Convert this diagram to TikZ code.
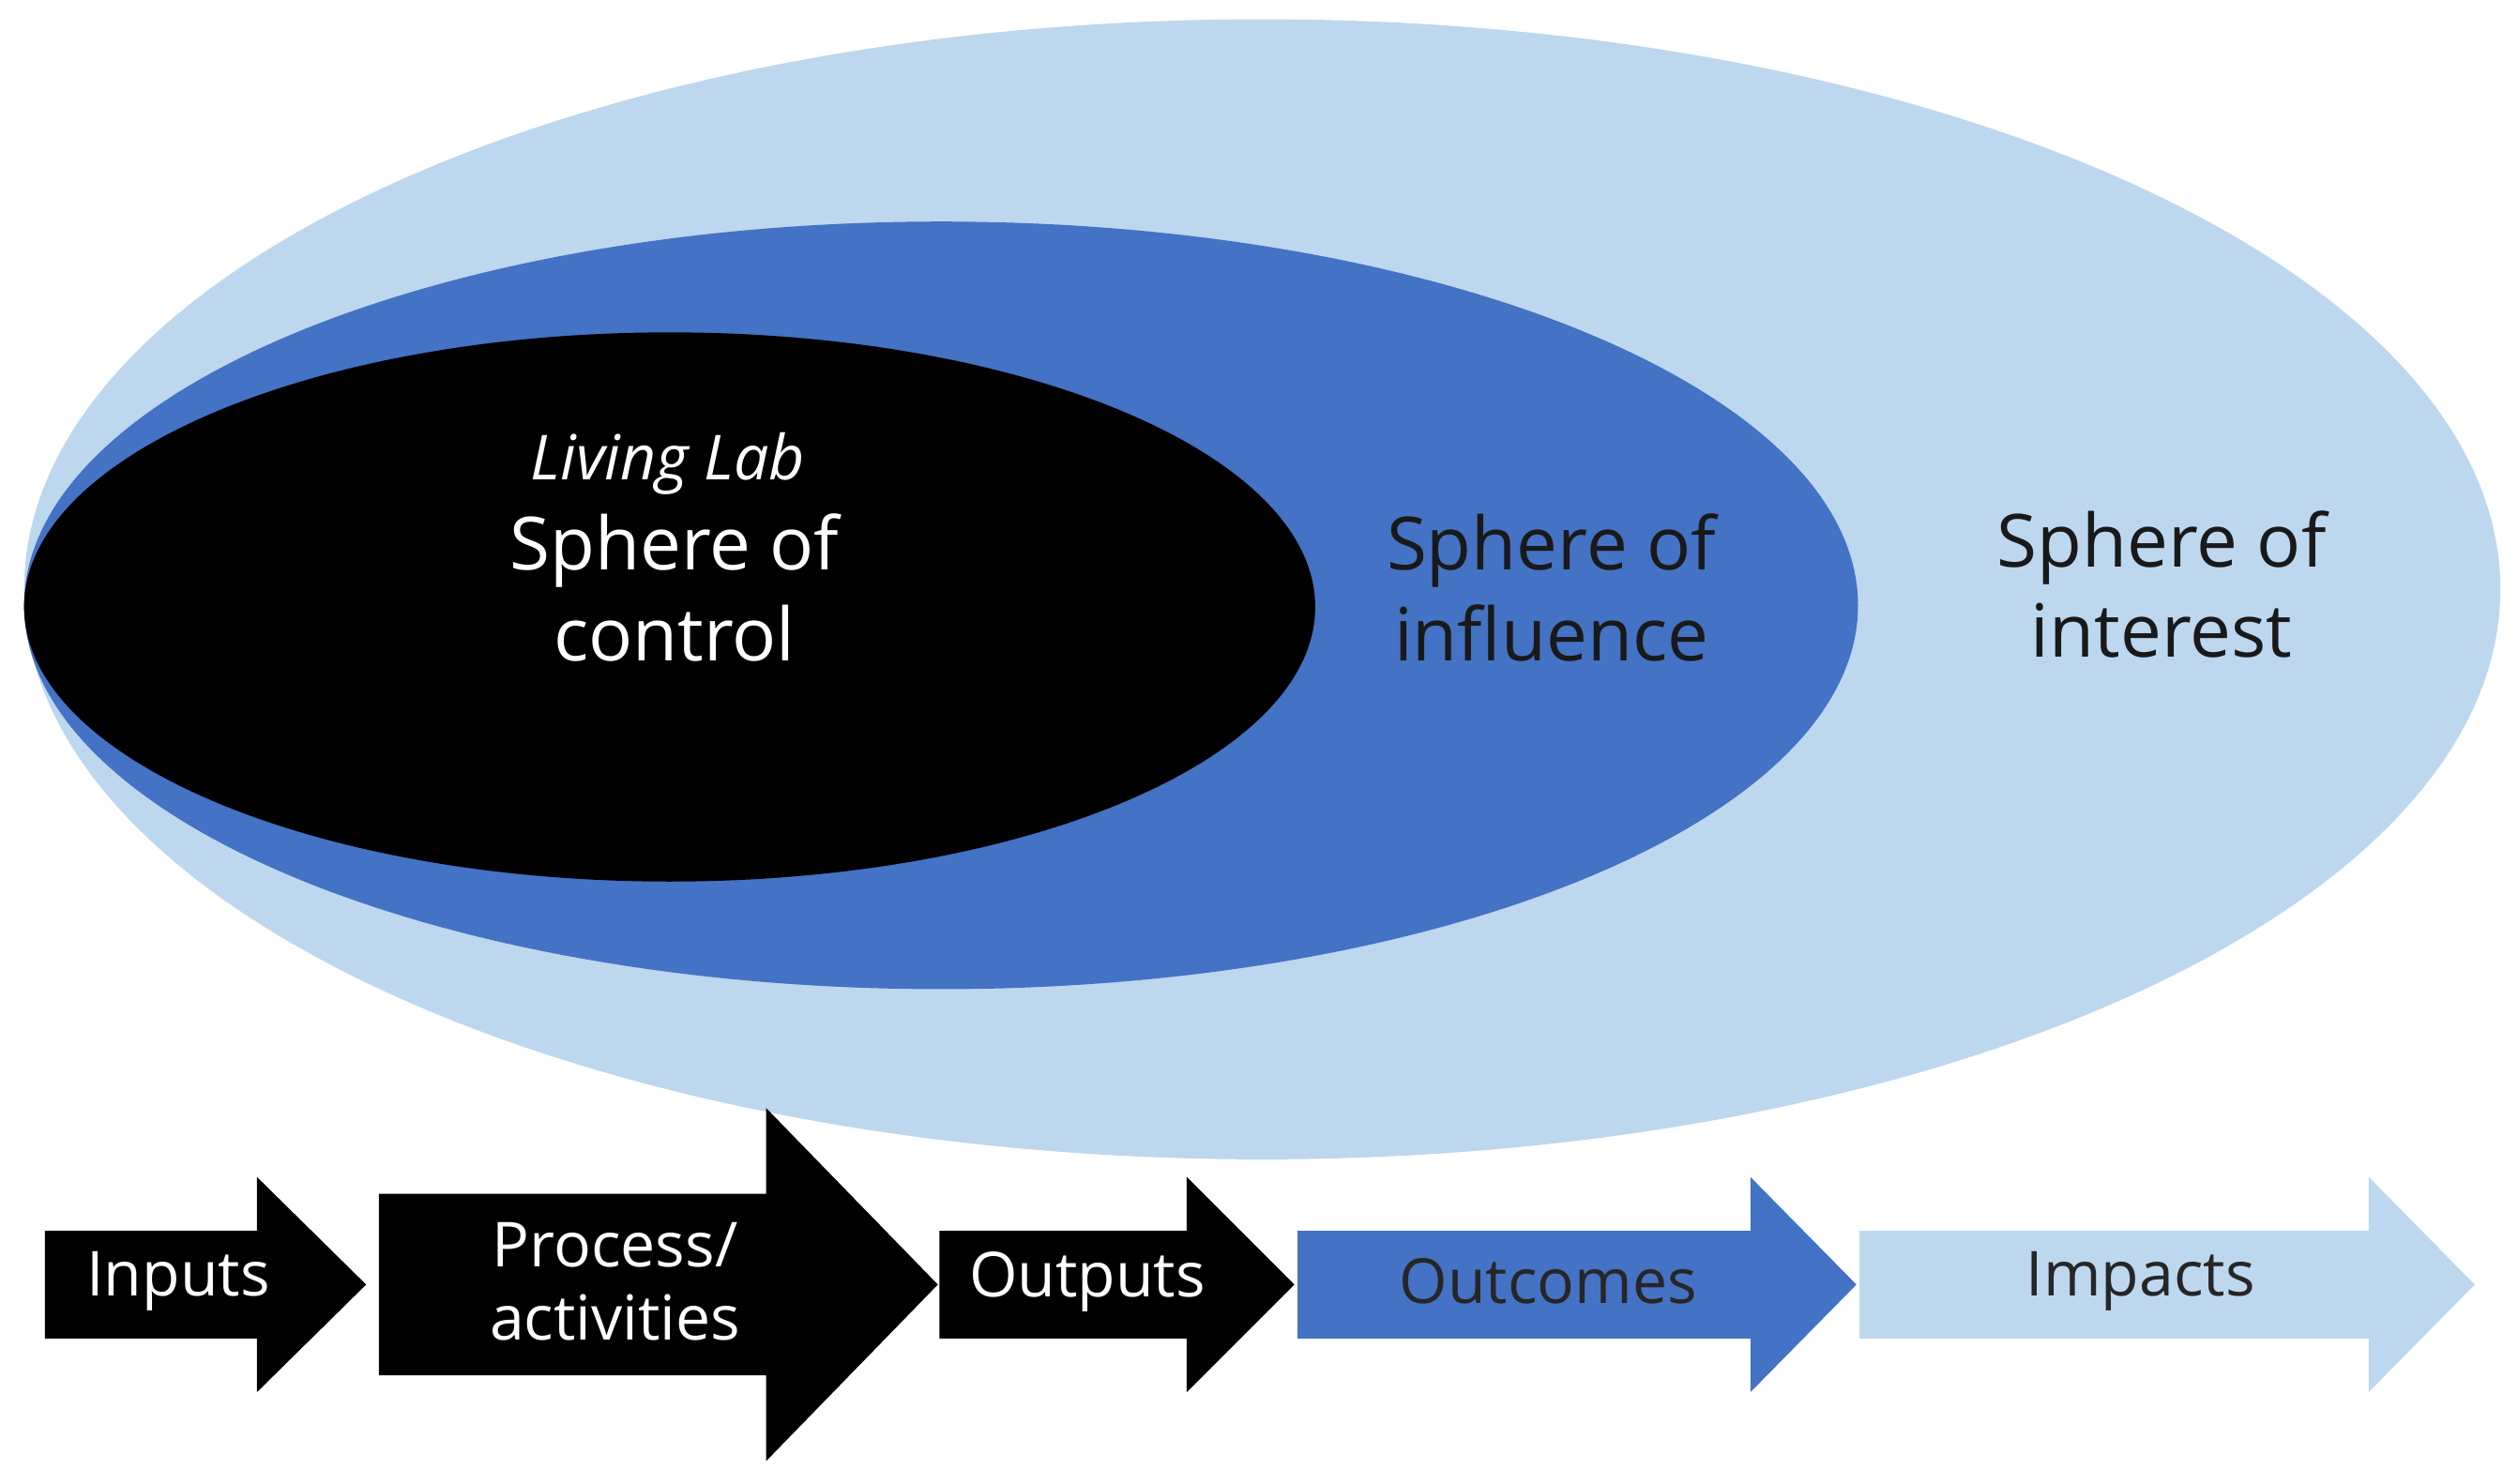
\documentclass[tikz,border=0pt]{standalone}
\usepackage{fontspec}
\setmainfont{Open Sans}
\usetikzlibrary{positioning}
\definecolor{lightsky}{HTML}{BDD7EE}
\definecolor{midblue}{HTML}{4472C4}
\tikzset{
  lbl/.style={align=center,font=\fontsize{13}{16}\selectfont,text=black!90},
  albl/.style={align=center,font=\fontsize{11}{13}\selectfont}
}
% flow arrow: #1 start x, #2 head start x, #3 tip x, #4 half body, #5 half head, #6 colour
\newcommand{\flowarrow}[6]{
  \fill[#6] (#1,-8.00+#4) -- (#2,-8.00+#4) -- (#2,-8.00+#5) -- (#3,-8.00)
    -- (#2,-8.00-#5) -- (#2,-8.00-#4) -- (#1,-8.00-#4) -- cycle;
}
\begin{document}
\begin{tikzpicture}
\useasboundingbox (0,0) rectangle (15.68,-9.24);
% spheres
\fill[lightsky] (7.86,-3.67) ellipse [x radius=7.71,y radius=3.55];
\fill[midblue] (5.86,-3.77) ellipse [x radius=5.71,y radius=2.39];
\fill[black] (4.17,-3.78) ellipse [x radius=4.02,y radius=1.71];
\node[lbl,text=white] (control) at (4.20,-3.66) {Sphere of\\control};
\node[lbl,text=white,font=\fontsize{11}{13}\selectfont\itshape] (lab) at (4.16,-2.89) {Living Lab};
\node[lbl] (influence) at (9.66,-3.66) {Sphere of\\influence};
\node[lbl] (interest) at (13.46,-3.64) {Sphere of\\interest};
% chain
\flowarrow{0.28}{1.60}{2.28}{0.335}{0.67}{black}
\flowarrow{2.36}{4.77}{5.84}{0.565}{1.10}{black}
\flowarrow{5.85}{7.39}{8.06}{0.335}{0.67}{black}
\flowarrow{8.08}{10.90}{11.56}{0.335}{0.67}{midblue}
\flowarrow{11.58}{14.75}{15.41}{0.335}{0.67}{lightsky}
\node[albl,text=white] (inputs) at (1.11,-7.98) {Inputs};
\node[albl,text=white] (process) at (3.83,-7.98) {Process/\\activities};
\node[albl,text=white] (outputs) at (6.77,-7.98) {Outputs};
\node[albl,text=black!85] (outcomes) at (9.64,-7.98) {Outcomes};
\node[albl,text=black!85] (impacts) at (13.33,-7.98) {Impacts};
\end{tikzpicture}
\end{document}
